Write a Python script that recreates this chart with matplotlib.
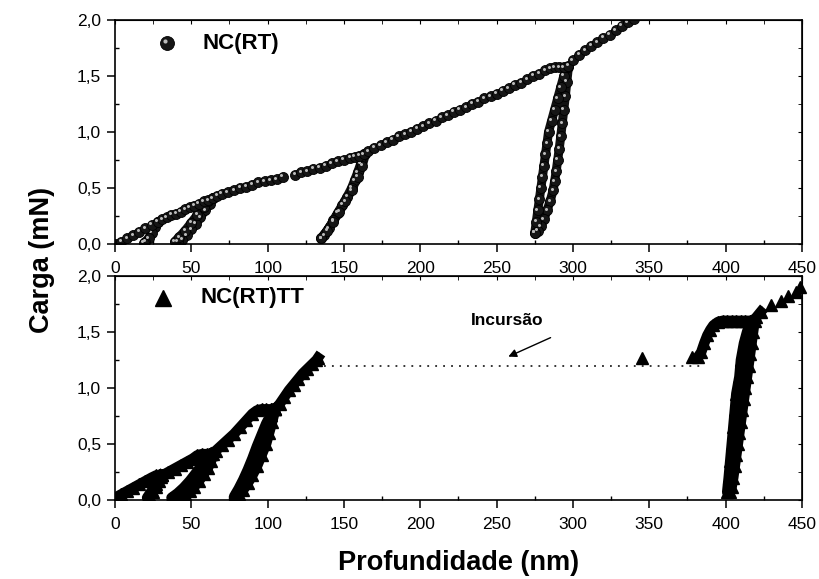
import matplotlib
matplotlib.use('Agg')
import matplotlib.pyplot as plt
import matplotlib.transforms as mtransforms
from matplotlib.ticker import MultipleLocator, FuncFormatter

plt.rcParams['font.family'] = ['Liberation Sans', 'DejaVu Sans']

# ---- NC(RT): envelope (loading) points ----
rt_load_d = [0, 4, 8, 12, 16, 20, 24, 28, 31, 34, 37, 40, 43, 46, 49, 52, 55, 58, 61, 64,
             67, 70, 74, 78, 82, 86, 90, 94, 98, 102, 106, 110, 118, 122, 126, 130, 134,
             138, 142, 146, 150, 154, 157, 160, 163, 166, 170, 174, 178, 182, 186, 190,
             194, 198, 202, 206, 210, 214, 218, 222, 226, 230, 234, 238, 242, 246, 250,
             254, 258, 262, 266, 270, 274, 278, 282, 285, 288, 291, 294, 297, 300, 304,
             308, 312, 316, 320, 324, 328, 332, 336, 340]
rt_load_L = [0.0, 0.02, 0.05, 0.08, 0.11, 0.14, 0.17, 0.2, 0.22, 0.24, 0.26, 0.27, 0.29,
             0.31, 0.33, 0.34, 0.36, 0.38, 0.39, 0.41, 0.43, 0.45, 0.46, 0.48, 0.5, 0.51,
             0.53, 0.55, 0.56, 0.57, 0.58, 0.6, 0.62, 0.64, 0.65, 0.67, 0.68, 0.7, 0.72,
             0.74, 0.75, 0.77, 0.78, 0.79, 0.8, 0.83, 0.86, 0.88, 0.91, 0.93, 0.96, 0.98,
             1.0, 1.03, 1.05, 1.08, 1.1, 1.13, 1.15, 1.18, 1.2, 1.22, 1.25, 1.27, 1.3, 1.32,
             1.34, 1.37, 1.39, 1.42, 1.44, 1.47, 1.5, 1.52, 1.55, 1.57, 1.58, 1.58, 1.58,
             1.59, 1.64, 1.69, 1.73, 1.77, 1.8, 1.84, 1.87, 1.91, 1.95, 1.98, 2.01]

# NC(RT) unload / reload loops
rt_loop1_d = [28, 26, 24, 22, 20, 19]
rt_loop1_L = [0.2, 0.15, 0.1, 0.05, 0.02, 0.01]
rt_loop2_d = [64, 62, 59, 56, 53, 50, 47, 44, 41, 39, 42, 46, 50, 54, 58, 61, 64]
rt_loop2_L = [0.41, 0.36, 0.3, 0.24, 0.18, 0.13, 0.08, 0.04, 0.02, 0.02, 0.06, 0.12,
              0.19, 0.26, 0.33, 0.38, 0.41]
rt_loop3_d = [163, 161, 159, 157, 155, 152, 149, 146, 143, 140, 137, 135,
              135, 139, 143, 147, 151, 155, 159, 162, 164]
rt_loop3_L = [0.8, 0.72, 0.64, 0.57, 0.5, 0.42, 0.35, 0.28, 0.21, 0.14, 0.08, 0.05,
              0.05, 0.12, 0.2, 0.29, 0.38, 0.48, 0.6, 0.7, 0.8]
rt_loop4_d = [297, 296, 295, 294, 293, 292, 291, 290, 289, 288, 287, 285, 283, 281, 279,
              277, 275, 275, 276, 277, 278, 279, 280, 281, 282, 283, 284, 286, 288, 290,
              292, 294, 296]
rt_loop4_L = [1.58, 1.45, 1.32, 1.2, 1.08, 0.96, 0.85, 0.75, 0.65, 0.56, 0.48, 0.38, 0.3,
              0.22, 0.16, 0.12, 0.1, 0.1, 0.2, 0.3, 0.4, 0.5, 0.6, 0.7, 0.8, 0.9, 1.0, 1.1,
              1.2, 1.3, 1.4, 1.5, 1.58]

# ---- NC(RT)TT: dense curves ----
tt_load_d = [0, 4, 8, 12, 16, 20, 24, 27, 29, 31, 35, 39, 43, 47, 51, 54, 57, 60, 63, 66,
             70, 74, 78, 82, 86, 90, 93, 96, 99, 102, 105, 108, 111, 114, 117, 120, 123,
             126, 129, 132, 133]
tt_load_L = [0.02, 0.05, 0.08, 0.11, 0.14, 0.17, 0.2, 0.22, 0.22, 0.22, 0.25, 0.28, 0.31,
             0.34, 0.37, 0.4, 0.41, 0.41, 0.41, 0.44, 0.49, 0.54, 0.59, 0.65, 0.71, 0.77,
             0.8, 0.81, 0.81, 0.81, 0.81, 0.86, 0.92, 0.98, 1.03, 1.08, 1.13, 1.17, 1.21,
             1.25, 1.27]
tt_loop1_d = [31, 29, 27, 25, 23, 21, 21, 24, 27, 30]
tt_loop1_L = [0.22, 0.17, 0.12, 0.07, 0.03, 0.02, 0.02, 0.08, 0.14, 0.21]
tt_loop2_d = [64, 63, 61, 58, 55, 52, 49, 46, 43, 40, 37, 37, 41, 45, 49, 53, 57, 60, 63]
tt_loop2_L = [0.41, 0.35, 0.29, 0.23, 0.17, 0.12, 0.08, 0.05, 0.03, 0.02, 0.02, 0.02,
              0.06, 0.11, 0.17, 0.24, 0.31, 0.37, 0.41]
tt_loop3_d = [105, 103, 101, 99, 96, 93, 90, 87, 84, 81, 78, 78, 81, 84, 87, 90, 93, 96,
              99, 102, 105]
tt_loop3_L = [0.81, 0.7, 0.6, 0.5, 0.4, 0.3, 0.22, 0.15, 0.09, 0.05, 0.03, 0.03, 0.1,
              0.18, 0.27, 0.37, 0.48, 0.58, 0.68, 0.76, 0.81]
tt_right_d = [382, 384, 386, 388, 390, 392, 395, 398, 401, 404, 407, 410, 413, 416, 419,
              418, 417, 416, 415, 414, 413, 412, 411, 410, 409, 408, 407, 406, 405, 404,
              403, 401, 402, 403, 404, 405, 406, 407, 409, 410, 412, 414, 416, 420, 423]
tt_right_L = [1.28, 1.32, 1.4, 1.47, 1.52, 1.56, 1.59, 1.6, 1.6, 1.6, 1.6, 1.6, 1.6, 1.6,
              1.6, 1.5, 1.4, 1.3, 1.2, 1.1, 1.0, 0.9, 0.8, 0.7, 0.6, 0.5, 0.4, 0.3, 0.2,
              0.12, 0.07, 0.07, 0.2, 0.35, 0.5, 0.65, 0.8, 0.95, 1.1, 1.25, 1.4, 1.5, 1.58,
              1.63, 1.68]
# isolated points
tt_pts_d = [345, 378, 430, 436, 441, 446, 449]
tt_pts_L = [1.27, 1.28, 1.74, 1.78, 1.82, 1.86, 1.9]

incursion_d = [137, 384]
incursion_L = [1.2, 1.2]

fig = plt.figure(figsize=(8.2, 5.79), dpi=100)
ax1 = fig.add_axes([0.1402, 0.5786, 0.8378, 0.3869])
ax2 = fig.add_axes([0.1402, 0.1364, 0.8378, 0.3869])


def sphere(ax, x, y, size=7.2, **kw):
    ax.plot(x, y, 'o', ms=size, mfc='#161616', mec='#000000', mew=0.6, **kw)
    tr = mtransforms.offset_copy(kw.get('transform', ax.transData), fig=fig,
                                 x=-size * 0.15, y=size * 0.15, units='points')
    ax.plot(x, y, 'o', ms=size * 0.3, mfc='#bcbcbc', mec='none', transform=tr)


# top panel
for d, L in [(rt_loop1_d, rt_loop1_L), (rt_loop2_d, rt_loop2_L),
             (rt_loop3_d, rt_loop3_L), (rt_loop4_d, rt_loop4_L)]:
    ax1.plot(d, L, '-', color='#111111', lw=6.5, solid_capstyle='round')
    sphere(ax1, d, L)
sphere(ax1, rt_load_d, rt_load_L)

# bottom panel
for d, L in [(tt_load_d, tt_load_L), (tt_loop1_d, tt_loop1_L), (tt_loop2_d, tt_loop2_L),
             (tt_loop3_d, tt_loop3_L), (tt_right_d, tt_right_L)]:
    ax2.plot(d, L, '-', color='black', lw=7.5)
    ax2.plot(d, L, '^', color='black', ms=8.5)
ax2.plot(tt_pts_d, tt_pts_L, '^', color='black', ms=8, clip_on=False)
ax2.plot(incursion_d, incursion_L, color='black', lw=1.1, linestyle=(0, (1.2, 4)))

ax2.annotate('', xy=(256, 1.27), xytext=(287, 1.46),
             arrowprops=dict(arrowstyle='-|>', color='black', lw=1, mutation_scale=12))
ax2.text(257, 1.60, 'Incursão', ha='center', va='center', fontsize=12.5, fontweight='bold')

# legends
sphere(ax1, [0.0757], [0.897], size=10, transform=ax1.transAxes)
ax1.text(0.127, 0.897, 'NC(RT)', transform=ax1.transAxes, fontsize=16,
         fontweight='bold', va='center')
ax2.plot([0.07], [0.902], '^', color='black', ms=11, transform=ax2.transAxes)
ax2.text(0.124, 0.902, 'NC(RT)TT', transform=ax2.transAxes, fontsize=16,
         fontweight='bold', va='center')

yfmt = FuncFormatter(lambda v, p: ('%.1f' % v).replace('.', ','))
for ax in (ax1, ax2):
    ax.set_xlim(0, 450)
    ax.set_ylim(0, 2.0)
    ax.xaxis.set_major_locator(MultipleLocator(50))
    ax.xaxis.set_minor_locator(MultipleLocator(25))
    ax.yaxis.set_major_locator(MultipleLocator(0.5))
    ax.yaxis.set_minor_locator(MultipleLocator(0.25))
    ax.yaxis.set_major_formatter(yfmt)
    ax.tick_params(which='major', direction='out', length=6, width=1.1,
                   labelsize=12.5)
    ax.tick_params(axis='x', which='major', pad=6)
    ax.tick_params(axis='y', which='major', pad=4)
    ax.tick_params(which='minor', direction='in', length=3, width=1)
    for s in ax.spines.values():
        s.set_linewidth(1.2)
    top = ax.secondary_xaxis('top')
    top.xaxis.set_major_locator(MultipleLocator(50))
    top.xaxis.set_minor_locator(MultipleLocator(25))
    top.tick_params(which='both', direction='in', length=3, labeltop=False)
    right = ax.secondary_yaxis('right')
    right.yaxis.set_major_locator(MultipleLocator(0.5))
    right.yaxis.set_minor_locator(MultipleLocator(0.25))
    right.tick_params(which='both', direction='in', length=3, labelright=False)

fig.text(0.051, 1 - 260 / 579, 'Carga (mN)', rotation=90, ha='center', va='center',
         fontsize=19.5, fontweight='bold')
fig.text(0.559, 1 - 563 / 579, 'Profundidade (nm)', ha='center', va='center',
         fontsize=19.5, fontweight='bold')

fig.savefig('out.png', dpi=100)
